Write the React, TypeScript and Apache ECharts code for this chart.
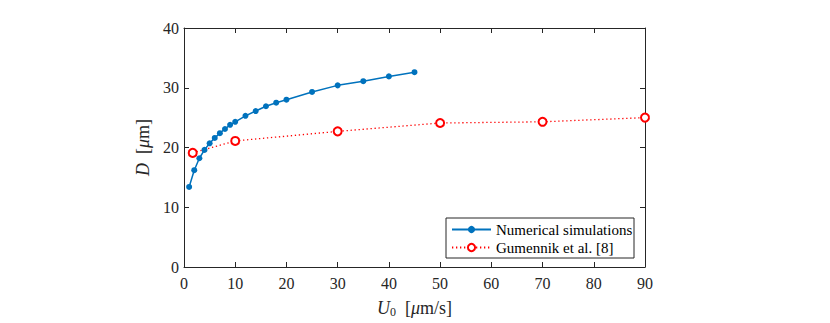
import React, { useEffect, useRef } from "react";
import * as echarts from "echarts";

const simU: number[] = [1, 2, 3, 4, 5, 6, 7, 8, 9, 10, 12, 14, 16, 18, 20, 25, 30, 35, 40, 45];
const simD: number[] = [13.4, 16.2, 18.2, 19.6, 20.7, 21.6, 22.4, 23.1, 23.8, 24.3, 25.3, 26.1, 26.9, 27.5, 28.0, 29.3, 30.4, 31.1, 31.9, 32.6];
const gumU: number[] = [1.7, 10, 30, 50, 70, 90];
const gumD: number[] = [19.1, 21.1, 22.7, 24.1, 24.3, 25.0];
const seriesNames: string[] = ["Numerical simulations", "Gumennik et al. [8]"];

const FONT = "'Liberation Serif', 'Times New Roman', Times, serif";
const AX = "#262626";

export default function App() {
  const ref = useRef<HTMLDivElement>(null);
  useEffect(() => {
    if (!ref.current) return;
    const chart = echarts.init(ref.current, undefined, { renderer: "svg" });
    const axisCommon = {
      type: "value" as const,
      axisLine: { show: true, onZero: false, lineStyle: { color: AX, width: 1 } },
      axisTick: { show: true, inside: true, length: 5, lineStyle: { color: AX, width: 1 } },
      splitLine: { show: false },
    };
    const labelStyle = { color: AX, fontFamily: FONT, fontSize: 16 };
    chart.setOption({
      animation: false,
      backgroundColor: "#fff",
      textStyle: { fontFamily: FONT },
      grid: { left: 184, top: 28, width: 461, height: 240 },
      xAxis: [
        {
          ...axisCommon,
          position: "bottom",
          min: 0,
          max: 90,
          interval: 10,
          axisLabel: { ...labelStyle, margin: 8 },
          name: "{i|U}{s|0}  [{i|μ}m/s]",
          nameLocation: "middle",
          nameGap: 31,
          nameTextStyle: {
            ...labelStyle,
            rich: {
              i: { fontFamily: FONT, fontSize: 18, fontStyle: "italic", color: AX, lineHeight: 20, verticalAlign: "middle" },
              s: { fontFamily: FONT, fontSize: 12, color: AX, lineHeight: 12, verticalAlign: "bottom" },
            },
            fontSize: 18,
            lineHeight: 20,
          },
        },
        {
          ...axisCommon,
          position: "top",
          min: 0,
          max: 90,
          interval: 10,
          axisLabel: { show: false },
        },
      ],
      yAxis: [
        {
          ...axisCommon,
          position: "left",
          min: 0,
          max: 40,
          interval: 10,
          axisLabel: { ...labelStyle, margin: 5 },
          name: "{i|D}  [{i|μ}m]",
          nameLocation: "middle",
          nameGap: 30,
          nameTextStyle: {
            ...labelStyle,
            fontSize: 18,
            rich: {
              i: { fontFamily: FONT, fontSize: 18, fontStyle: "italic", color: AX },
            },
          },
        },
        {
          ...axisCommon,
          position: "right",
          min: 0,
          max: 40,
          interval: 10,
          axisLabel: { show: false },
        },
      ],
      graphic: [
        {
          type: "rect",
          shape: { x: 446, y: 218, width: 188, height: 40 },
          style: { fill: "#fff", stroke: AX, lineWidth: 1 },
          z: 5,
        },
      ],
      legend: {
        left: 451,
        top: 221,
        orient: "vertical",
        padding: 0,
        itemWidth: 39,
        itemHeight: 9,
        itemGap: 1,
        z: 10,
        data: seriesNames,
        textStyle: { fontFamily: FONT, fontSize: 15, color: "#000", lineHeight: 17 },
      },
      series: [
        {
          name: seriesNames[0],
          type: "line",
          data: simU.map((u, i) => [u, simD[i]]),
          symbol: "circle",
          symbolSize: 6,
          itemStyle: { color: "#0072BD" },
          lineStyle: { color: "#0072BD", width: 1.5 },
        },
        {
          name: seriesNames[1],
          type: "line",
          data: gumU.map((u, i) => [u, gumD[i]]),
          symbol: "emptyCircle",
          symbolSize: 8,
          itemStyle: { color: "#FF0000", borderWidth: 1.2 },
          lineStyle: { color: "#FF0000", width: 1.3, type: [1.3, 2.7] },
        },
      ],
    });
    return () => chart.dispose();
  }, []);
  return (
    <div
      ref={ref}
      style={{ position: "fixed", left: 0, top: 0, width: 830, height: 323 }}
    />
  );
}
